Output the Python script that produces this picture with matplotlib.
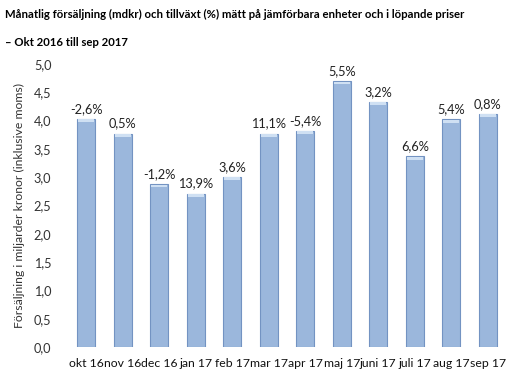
import matplotlib.pyplot as plt
import numpy as np

plt.rcParams['font.family'] = ['Lato', 'DejaVu Sans']

# data
months = ["okt 16", "nov 16", "dec 16", "jan 17", "feb 17", "mar 17",
          "apr 17", "maj 17", "juni 17", "juli 17", "aug 17", "sep 17"]
sales = [4.03, 3.77, 2.88, 2.71, 3.01, 3.77, 3.82, 4.70, 4.33, 3.37, 4.02, 4.12]
growth = ["-2,6%", "0,5%", "-1,2%", "13,9%", "3,6%", "11,1%",
          "-5,4%", "5,5%", "3,2%", "6,6%", "5,4%", "0,8%"]

fig = plt.figure(figsize=(5.15, 3.82), dpi=100)
ax = fig.add_axes([68/515, 1-347/382, 438/515, 283/382])

x = np.arange(len(months))
ax.bar(x, sales, width=0.5, color='#9BB7DC', edgecolor='#7393C2', linewidth=0.8)
# light cap on top of each bar
ax.bar(x, [0.05]*len(x), bottom=np.array(sales)-0.06, width=0.44,
       color='#CFE0F3', linewidth=0)

for xi, s, g in zip(x, sales, growth):
    ax.text(xi, s + 0.07, g, ha='center', va='bottom', fontsize=9.2, color='#222222')

ax.set_xlim(-0.5, len(months) - 0.5)
ax.set_ylim(0, 5.0)
ax.set_yticks(np.arange(0, 5.01, 0.5))
ax.set_yticklabels([f"{v:.1f}".replace('.', ',') for v in np.arange(0, 5.01, 0.5)],
                   fontsize=9.2, color='#333333')
ax.set_xticks(x)
ax.set_xticklabels(months, fontsize=8.8, color='#111111')
ax.tick_params(length=0, pad=8)
ax.tick_params(axis='y', pad=12)
for sp in ax.spines.values():
    sp.set_visible(False)

ax.set_ylabel("Försäljning i miljarder kronor (inklusive moms)", fontsize=8.8,
              color='#333333', labelpad=6)

fig.text(5/515, 1-14/382, "Månatlig försäljning (mdkr) och tillväxt (%) mätt på jämförbara enheter och i löpande priser",
         fontsize=8.2, fontweight='bold', va='center', ha='left')
fig.text(5/515, 1-42/382, "– Okt 2016 till sep 2017",
         fontsize=8.2, fontweight='bold', va='center', ha='left')

fig.savefig("out.png", dpi=100)
